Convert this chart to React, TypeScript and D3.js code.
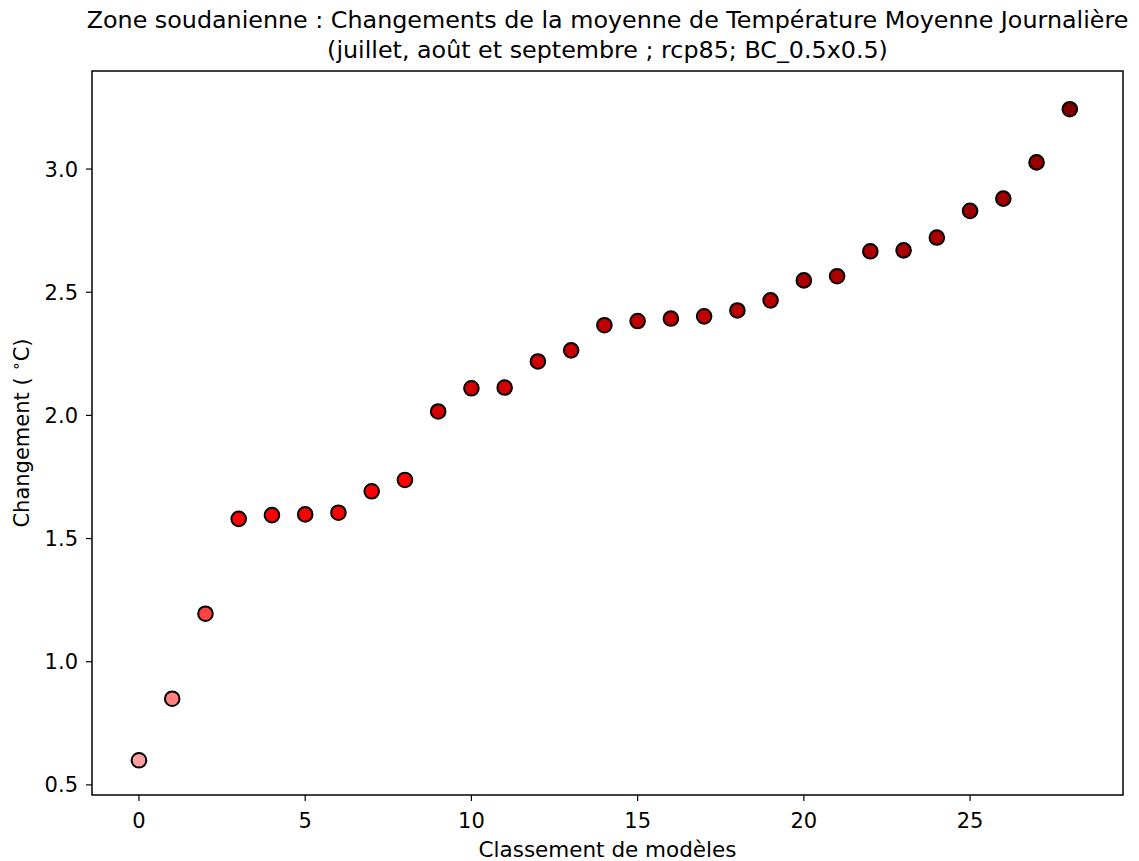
import React from "react";
import * as d3 from "d3";

const ranks = [0,1,2,3,4,5,6,7,8,9,10,11,12,13,14,15,16,17,18,19,20,21,22,23,24,25,26,27,28];
const changes = [0.60,0.85,1.195,1.58,1.595,1.598,1.605,1.692,1.738,2.016,2.11,2.113,2.219,2.264,2.366,2.383,2.393,2.402,2.426,2.467,2.548,2.565,2.666,2.670,2.722,2.830,2.880,3.027,3.243];
const pointColors = ["#ff9f9f","#ff8080","#ff4343","#ff0000","#ff0000","#ff0000","#ff0000","#ff0000","#ff0000","#d40000","#d40000","#d40000","#cc0000","#cc0000","#c00000","#c00000","#c00000","#c00000","#bb0000","#bb0000","#aa0000","#aa0000","#aa0000","#aa0000","#aa0000","#a00000","#a00000","#9a0000","#800000"];
const xTicks = [0,5,10,15,20,25];
const yTicks = [0.5,1.0,1.5,2.0,2.5,3.0];
const titleLines = ["Zone soudanienne : Changements de la moyenne de Température Moyenne Journalière","(juillet, août et septembre ; rcp85; BC_0.5x0.5)"];
const xLabel = "Classement de modèles";
const yLabelParts = ["Changement ( ", "∘", "C)"];

export default function App() {
  const W = 1139, H = 861;
  const L = 92, R = 1123, T = 71, B = 795;
  const x = d3.scaleLinear().domain([-1.413, 29.6]).range([L, R]);
  const y = d3.scaleLinear().domain([0.459, 3.398]).range([B, T]);
  const font = "DejaVu Sans, sans-serif";
  return (
    <svg width={W} height={H} style={{ position: "absolute", left: 0, top: 0, background: "#fff" }} fontFamily={font}>
      <rect x={0} y={0} width={W} height={H} fill="#fff" />
      <text x={(L + R) / 2} y={28} textAnchor="middle" fontSize={23.8} fill="#000">{titleLines[0]}</text>
      <text x={(L + R) / 2} y={58} textAnchor="middle" fontSize={23.8} fill="#000">{titleLines[1]}</text>
      {ranks.map((r, i) => (
        <circle key={i} cx={x(r)} cy={y(changes[i])} r={7.3} fill={pointColors[i]} stroke="#000" strokeWidth={2} />
      ))}
      <rect x={L} y={T} width={R - L} height={B - T} fill="none" stroke="#000" strokeWidth={1.5} />
      {xTicks.map((t) => (
        <g key={"x" + t}>
          <line x1={x(t)} x2={x(t)} y1={B} y2={B + 6} stroke="#000" strokeWidth={1.2} />
          <text x={x(t)} y={B + 33} textAnchor="middle" fontSize={21} fill="#000">{String(t)}</text>
        </g>
      ))}
      {yTicks.map((t) => (
        <g key={"y" + t}>
          <line x1={L - 6} x2={L} y1={y(t)} y2={y(t)} stroke="#000" strokeWidth={1.2} />
          <text x={L - 14} y={y(t)} dy="0.36em" textAnchor="end" fontSize={21} fill="#000">{t.toFixed(1)}</text>
        </g>
      ))}
      <text x={(L + R) / 2} y={857} textAnchor="middle" fontSize={21.5} fill="#000">{xLabel}</text>
      <text transform={`translate(29, ${(T + B) / 2}) rotate(-90)`} textAnchor="middle" fontSize={21} fill="#000">
        <tspan>{yLabelParts[0]}</tspan>
        <tspan fontSize={15} dy={-8}>{yLabelParts[1]}</tspan>
        <tspan dy={8}>{yLabelParts[2]}</tspan>
      </text>
    </svg>
  );
}
